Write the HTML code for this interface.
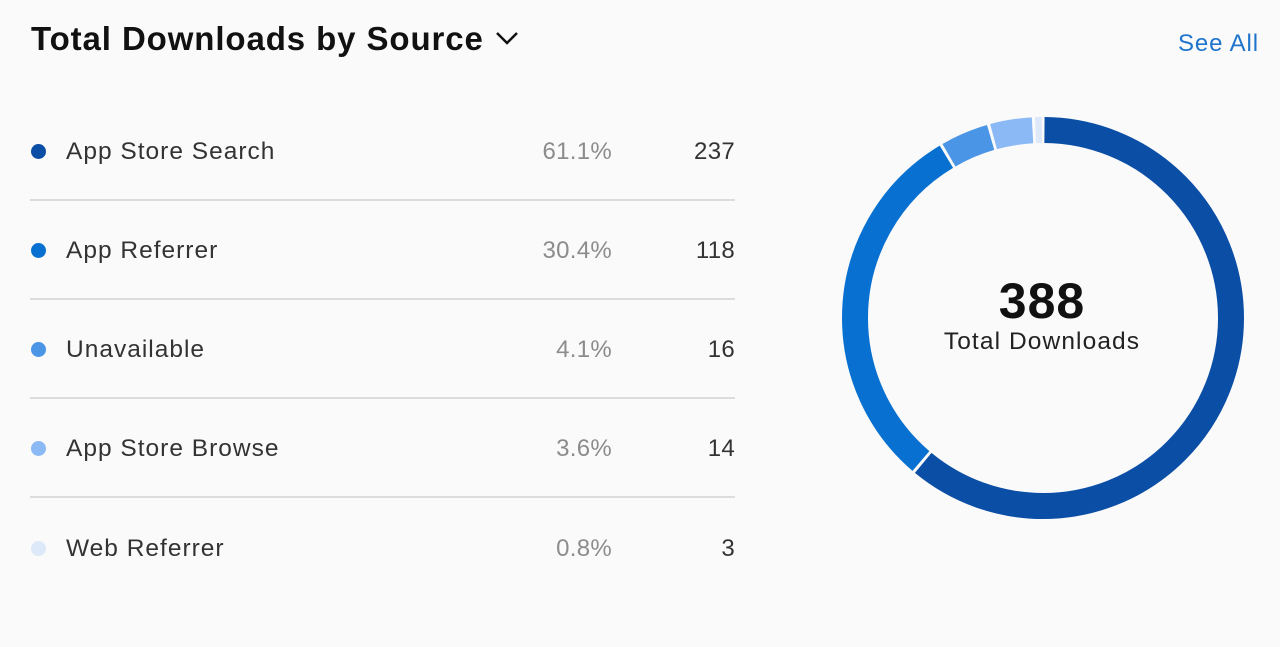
<!DOCTYPE html>
<html><head><style>
body{margin:0;width:1280px;height:630px;background:#fafafa;font-family:"Liberation Sans",sans-serif;position:relative;overflow:hidden}
.t{position:absolute;left:31px;top:20px;font-size:33px;font-weight:bold;color:#111;letter-spacing:0.9px}
.see{position:absolute;right:21px;top:30px;font-size:24px;color:#1f75cc;letter-spacing:0.9px}
.row{position:absolute;left:30px;width:705px;height:99px}
.dot{position:absolute;left:1px;width:15px;height:15px;border-radius:50%;top:-7px}
.lab{position:absolute;left:36px;top:-13px;font-size:24.5px;color:#333;letter-spacing:1px}
.pct{position:absolute;right:123px;top:-13px;font-size:24px;color:#8c8c8c;letter-spacing:0.3px}
.num{position:absolute;right:0;top:-13px;font-size:24px;color:#333;letter-spacing:0.3px}
.sep{position:absolute;left:30px;width:705px;height:2px;background:#dcdcdc}
</style></head><body>
<div class="t">Total Downloads by Source <svg width="26" height="16" viewBox="0 0 26 16" style="vertical-align:4px"><path d="M3 3 L13 13 L23 3" fill="none" stroke="#111" stroke-width="2.5"/></svg></div>
<div class="see">See All</div>

<div class="row" style="top:151px"><div class="dot" style="background:#0b4ea6"></div><div class="lab">App Store Search</div><div class="pct">61.1%</div><div class="num">237</div></div>
<div class="sep" style="top:199px"></div>
<div class="row" style="top:250px"><div class="dot" style="background:#0870d0"></div><div class="lab">App Referrer</div><div class="pct">30.4%</div><div class="num">118</div></div>
<div class="sep" style="top:298px"></div>
<div class="row" style="top:349px"><div class="dot" style="background:#4a95e5"></div><div class="lab">Unavailable</div><div class="pct">4.1%</div><div class="num">16</div></div>
<div class="sep" style="top:397px"></div>
<div class="row" style="top:448px"><div class="dot" style="background:#8ab9f5"></div><div class="lab">App Store Browse</div><div class="pct">3.6%</div><div class="num">14</div></div>
<div class="sep" style="top:496px"></div>
<div class="row" style="top:548px"><div class="dot" style="background:#dde8f8"></div><div class="lab">Web Referrer</div><div class="pct">0.8%</div><div class="num">3</div></div>

<svg style="position:absolute;left:0;top:0" width="1280" height="630">
<g transform="rotate(-90 1043 318)" fill="none" stroke-width="26">
<circle cx="1043" cy="318" r="188" stroke="#0b4ea6" stroke-dasharray="718.7 2000" stroke-dashoffset="-1.5"/>
<circle cx="1043" cy="318" r="188" stroke="#0870d0" stroke-dasharray="356.1 2000" stroke-dashoffset="-723.2"/>
<circle cx="1043" cy="318" r="188" stroke="#4a95e5" stroke-dasharray="45.4 2000" stroke-dashoffset="-1082.3"/>
<circle cx="1043" cy="318" r="188" stroke="#8ab9f5" stroke-dasharray="39.5 2000" stroke-dashoffset="-1130.7"/>
<circle cx="1043" cy="318" r="188" stroke="#dde8f8" stroke-dasharray="6.4 2000" stroke-dashoffset="-1173.2"/>
</g>
<text x="1042" y="318" text-anchor="middle" font-family="Liberation Sans" font-weight="bold" font-size="50" fill="#111" letter-spacing="1">388</text>
<text x="1042" y="349" text-anchor="middle" font-family="Liberation Sans" font-size="24.5" fill="#222" letter-spacing="1.1">Total Downloads</text>
</svg>
</body></html>
